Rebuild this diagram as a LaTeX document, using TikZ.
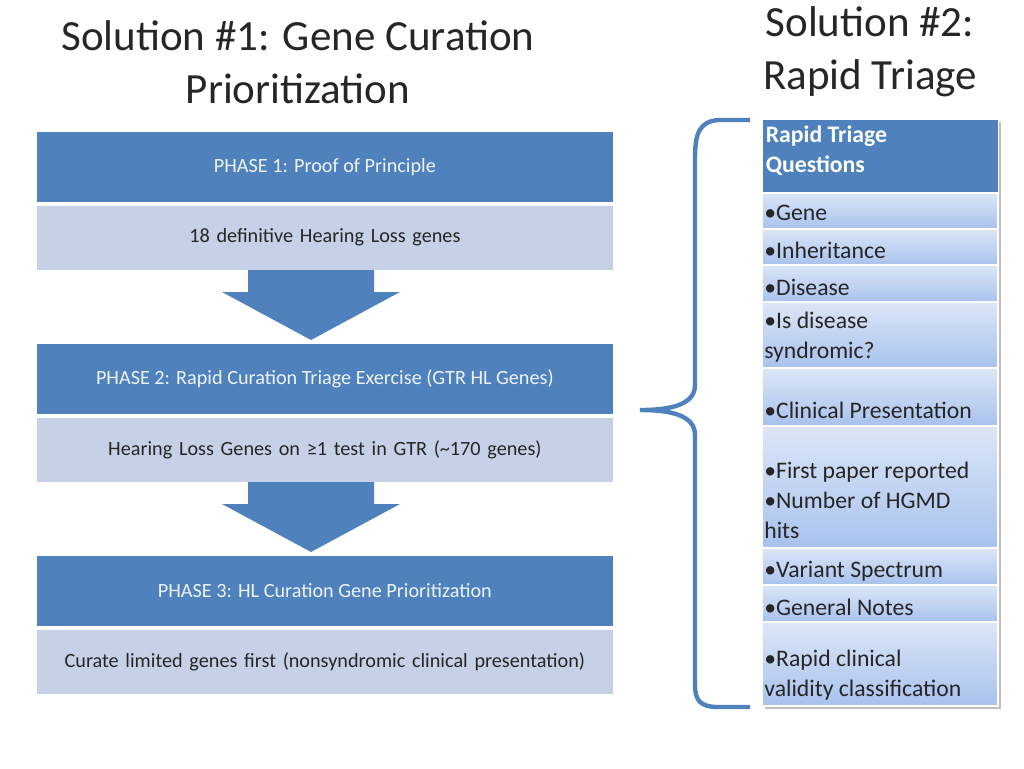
\documentclass[tikz,border=0pt]{standalone}
\usepackage{fontspec}
\setmainfont{Carlito}
\usetikzlibrary{positioning,shapes.arrows}
\definecolor{hdblue}{HTML}{4F81BD}
\definecolor{subblue}{HTML}{C6D0E6}
\definecolor{rowtop}{HTML}{DCE6F6}
\definecolor{rowbot}{HTML}{A8C2EE}
\definecolor{txt}{HTML}{262626}
\begin{document}
\begin{tikzpicture}[x=0.02cm,y=-0.02cm,
    phasehead/.style={fill=hdblue,draw=white,line width=1pt,minimum width=578*0.02cm,minimum height=72*0.02cm,anchor=north west,text=white!90!hdblue,font=\fontsize{11.5}{13}\selectfont,align=center},
    phasesub/.style={fill=subblue,draw=white,line width=1pt,minimum width=578*0.02cm,minimum height=66*0.02cm,anchor=north west,text=txt,font=\fontsize{11.5}{13}\selectfont,align=center,text width=540*0.02cm},
    downarrow/.style={fill=hdblue,draw=none},
    row/.style={draw=white,line width=0.8pt,top color=rowtop,bottom color=rowbot},
    rowtext/.style={anchor=west,text=txt,font=\fontsize{13.5}{17}\selectfont,align=left,inner sep=0pt},
    title/.style={font=\fontsize{24.5}{30}\selectfont,text=txt,align=center}]
\useasboundingbox (0,0) rectangle (1024,768);

% titles
\node[title] (t1) at (298,62) {Solution \#1: Gene Curation\\Prioritization};
\node[title] (t2) at (870,52) {Solution \#2:\\Rapid Triage};

% phases
\node[phasehead] (p1) at (35,130) {PHASE 1: Proof of Principle};
\node[phasesub,anchor=north] (s1) at (p1.south) {18 definitive Hearing Loss genes};
\node[phasehead] (p2) at (35,342) {PHASE 2: Rapid Curation Triage Exercise (GTR HL Genes)};
\node[phasesub,anchor=north] (s2) at (p2.south) {Hearing Loss Genes on ≥1 test in GTR (\textasciitilde170 genes)};
\node[phasehead] (p3) at (35,554) {PHASE 3: HL Curation Gene Prioritization};
\node[phasesub,anchor=north] (s3) at (p3.south) {Curate limited genes first (nonsyndromic clinical presentation)};

% arrows
\foreach \y in {270,482}{
  \fill[downarrow] (248,\y) -- (374,\y) -- (374,\y+22) -- (400,\y+22) -- (311,\y+70)
     -- (222,\y+22) -- (248,\y+22) -- cycle;
}

% brace
\draw[hdblue,line width=2.5pt] (750,120) -- (718,120) .. controls (698,122) and (695,135) .. (695,160)
  -- (695,385) .. controls (695,405) and (670,410) .. (640,410)
  .. controls (670,410) and (695,415) .. (695,435)
  -- (695,685) .. controls (695,700) and (700,707) .. (718,707) -- (750,707);

% triage table
\fill[black!25] (765,122) rectangle (1001,709);
\node[fill=hdblue,draw=white,minimum width=236*0.02cm,minimum height=74*0.02cm,anchor=north west,inner sep=0pt] (hd) at (762,119) {};
\node[anchor=north west,text=white,font=\bfseries\fontsize{13.5}{17}\selectfont,align=left,inner sep=2pt] (hdt) at (762,122) {Rapid Triage\\Questions};
\foreach \a/\b in {193/229,229/265,265/302,302/368,368/426,426/548,548/585,585/622,622/706}{
  \shade[row] (762,\a) rectangle (998,\b);
}
\node[rowtext] (q1) at (764,213) {•Gene};
\node[rowtext] (q2) at (764,250) {•Inheritance};
\node[rowtext] (q3) at (764,287) {•Disease};
\node[rowtext] (q4) at (764,337) {•Is disease\\syndromic?};
\node[rowtext] (q5) at (764,410) {•Clinical Presentation};
\node[rowtext] (q6) at (764,500) {•First paper reported\\•Number of HGMD\\hits};
\node[rowtext] (q7) at (764,571) {•Variant Spectrum};
\node[rowtext] (q8) at (764,607) {•General Notes};
\node[rowtext] (q9) at (764,675) {•Rapid clinical\\validity classification};
\end{tikzpicture}
\end{document}
